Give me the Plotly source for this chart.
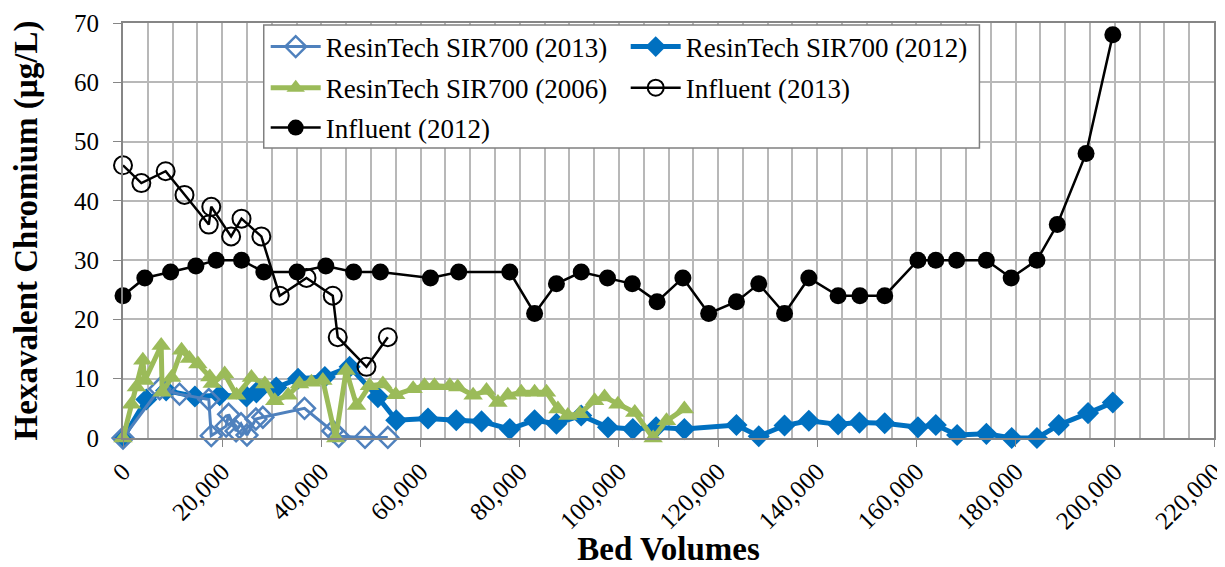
import plotly.graph_objects as go

# ---- data ----
inf2013_x = [0, 3700, 8600, 12400, 17300, 17800, 21800, 23900, 27900, 31600, 37000, 42300, 43300, 49100, 53400]
inf2013_y = [46, 43, 45, 41, 36, 39, 34, 37, 34, 24, 27, 24, 17, 12, 17]

inf2012_x = [0, 4400, 9600, 14700, 18800, 23900, 28400, 35100, 40900, 46500, 51900, 62000, 67700, 78000,
             83000, 87400, 92400, 97700, 102700, 107700, 112900, 118100, 123700, 128200, 133400, 138300,
             144200, 148600, 153600, 160300, 163900, 168100, 174100, 179100, 184300, 188400, 194200, 199600]
inf2012_y = [24, 27, 28, 29, 30, 30, 28, 28, 29, 28, 28, 27, 28, 28,
             21, 26, 28, 27, 26, 23, 27, 21, 23, 26, 21, 27,
             24, 24, 24, 30, 30, 30, 30, 27, 30, 36, 48, 68]

sir2012_x = [0, 4700, 8700, 14500, 19500, 24900, 26900, 30900, 35300, 40700, 45700, 51400, 55100, 61500,
             67200, 72300, 78000, 83000, 87400, 92400, 97800, 102800, 107500, 113200, 123700, 128200,
             133400, 138300, 144200, 148500, 153600, 160300, 163900, 168200, 174100, 179200, 184300,
             188700, 194600, 199600]
sir2012_y = [0, 6.5, 8.0, 7.0, 7.2, 7.0, 7.7, 8.5, 10.0, 10.3, 12.0, 6.9, 3.0, 3.3,
             3.0, 2.8, 1.5, 3.0, 2.4, 3.8, 1.8, 1.5, 1.8, 1.5, 2.2, 0.3,
             2.1, 2.9, 2.3, 2.6, 2.5, 1.8, 2.2, 0.5, 0.7, 0, 0,
             2.2, 4.2, 6.0]

sir2013_x = [0, 7400, 11400, 17300, 17800, 20800, 21300, 22800, 23800, 25000, 26800, 28200, 36600,
             42300, 43500, 48800, 53400]
sir2013_y = [0, 8.3, 7.4, 6.5, 0.4, 2.0, 4.0, 1.2, 2.4, 0.5, 3.2, 3.5, 5.0, 1.2, 0.3, 0.1, 0.1]

sir2006_x = [0, 1700, 2700, 4000, 4400, 7700, 7900, 9800, 11800, 13400, 15100, 17500, 18000, 20500,
             22900, 25900, 28600, 30600, 33300, 35600, 38000, 40300, 42900, 45000, 47100, 49700, 52400,
             55000, 58500, 60800, 62800, 65900, 67500, 70600, 73300, 75600, 77600, 80300, 83000, 85400,
             87700, 89700, 92100, 95100, 97100, 99800, 103200, 106900, 109600, 113200]
sir2006_y = [0, 5.7, 8.6, 13.1, 9.7, 15.6, 7.7, 10.2, 14.8, 13.4, 12.5, 10.3, 9.2, 10.8,
             7.2, 10.2, 9.1, 6.3, 7.2, 9.1, 9.4, 9.7, 0, 11.4, 5.5, 8.8, 9.1,
             7.3, 8.3, 8.8, 8.8, 8.8, 8.6, 7.2, 8.0, 6.0, 7.2, 7.7, 7.7, 7.7,
             4.9, 3.8, 4.1, 6.3, 6.9, 5.7, 4.3, 0, 2.9, 4.9]

x_ticks = [0, 20000, 40000, 60000, 80000, 100000, 120000, 140000, 160000, 180000, 200000, 220000]
x_tick_labels = ["0", "20,000", "40,000", "60,000", "80,000", "100,000", "120,000", "140,000",
                 "160,000", "180,000", "200,000", "220,000"]

FONT = "Liberation Serif"
fig = go.Figure()

fig.add_trace(go.Scatter(x=sir2012_x, y=sir2012_y, name="ResinTech SIR700 (2012)", mode="lines+markers",
                         line=dict(color="#0070C0", width=5),
                         marker=dict(symbol="diamond", size=17, color="#0070C0"),
                         cliponaxis=False, legend="legend", legendrank=2))
fig.add_trace(go.Scatter(x=sir2013_x, y=sir2013_y, name="ResinTech SIR700 (2013)", mode="lines+markers",
                         line=dict(color="#4F81BD", width=3),
                         marker=dict(symbol="diamond-open", size=16, color="#4F81BD", line=dict(width=2.5)),
                         cliponaxis=False, legend="legend", legendrank=1))
fig.add_trace(go.Scatter(x=sir2006_x, y=sir2006_y, name="ResinTech SIR700 (2006)", mode="lines+markers",
                         line=dict(color="#9BBB59", width=5),
                         marker=dict(symbol="triangle-up", size=17, color="#9BBB59"),
                         cliponaxis=False, legend="legend2", legendrank=3))
fig.add_trace(go.Scatter(x=inf2013_x, y=inf2013_y, name="Influent (2013)", mode="lines+markers",
                         line=dict(color="black", width=2.5),
                         marker=dict(symbol="circle-open", size=18, color="black", line=dict(width=2)),
                         cliponaxis=False, legend="legend2", legendrank=4))
fig.add_trace(go.Scatter(x=inf2012_x, y=inf2012_y, name="Influent (2012)", mode="lines+markers",
                         line=dict(color="black", width=2.5),
                         marker=dict(symbol="circle", size=17, color="black"),
                         cliponaxis=False, legend="legend3", legendrank=5))

leg_common = dict(orientation="h", xanchor="left", yanchor="middle", bgcolor="rgba(0,0,0,0)",
                  borderwidth=0, font=dict(family=FONT, size=27), entrywidth=295, itemwidth=50,
                  traceorder="normal")
LX = 0.1308

# page body has an 8px margin, so the figure is drawn 8px smaller than the window
fig.update_layout(
    width=1217, height=559,
    margin=dict(l=115, r=11, t=15, b=129, autoexpand=False),
    paper_bgcolor="white", plot_bgcolor="white",
    font=dict(family=FONT, color="black", size=25),
    showlegend=True,
    legend=dict(x=LX, y=0.942, **leg_common),
    legend2=dict(x=LX, y=0.843, **leg_common),
    legend3=dict(x=LX, y=0.747, **leg_common),
    shapes=[dict(type="rect", xref="paper", yref="paper", x0=0.129, x1=0.785, y0=0.699, y1=0.995,
                 fillcolor="white", line=dict(color="#808080", width=1.5), layer="above")],
    xaxis=dict(range=[0, 220000], tickvals=x_ticks, ticktext=x_tick_labels, tickangle=-45,
               automargin=False, ticklabeloverflow="allow",
               showgrid=True, gridcolor="#B8B8B8", gridwidth=1.5,
               minor=dict(dtick=5000, showgrid=True, gridcolor="#B8B8B8", gridwidth=1.5),
               showline=True, linecolor="#868686", linewidth=2, mirror=True,
               ticks="outside", ticklen=7, tickcolor="#868686",
               tickfont=dict(family=FONT, size=25), zeroline=False,
               title=dict(text="<b>Bed Volumes</b>", font=dict(family=FONT, size=33), standoff=11)),
    yaxis=dict(range=[0, 70], dtick=10, automargin=False,
               showgrid=True, gridcolor="#B8B8B8", gridwidth=1.5,
               showline=True, linecolor="#868686", linewidth=2, mirror=True,
               ticks="outside", ticklen=8, tickcolor="#868686", ticklabelstandoff=9,
               tickfont=dict(family=FONT, size=25), zeroline=False,
               title=dict(text="<b>Hexavalent Chromium (µg/L)</b>", font=dict(family=FONT, size=33),
                          standoff=26)),
)

fig.write_html("out.html")
